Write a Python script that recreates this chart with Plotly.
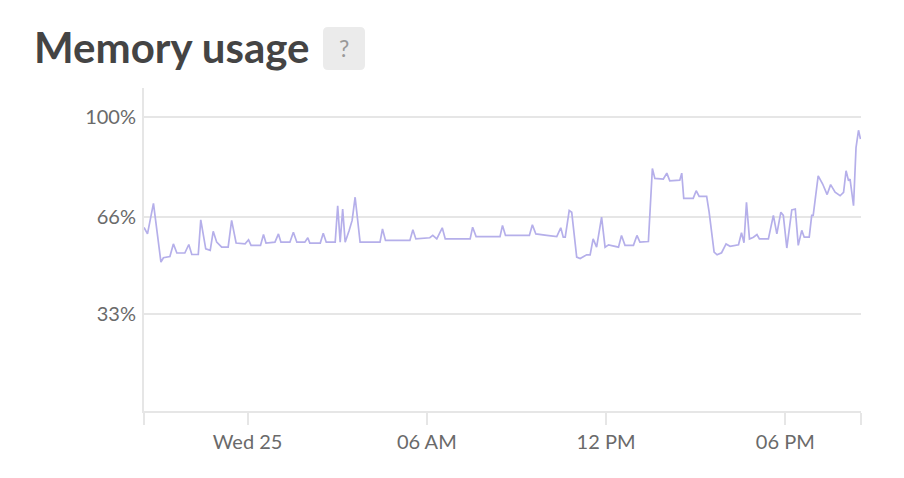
import plotly.graph_objects as go

# ---- data ----
times = [
    "2019-09-24 20:32", "2019-09-24 20:39", "2019-09-24 20:51", "2019-09-24 21:06", "2019-09-24 21:11",
    "2019-09-24 21:24", "2019-09-24 21:31", "2019-09-24 21:38", "2019-09-24 21:54", "2019-09-24 22:02",
    "2019-09-24 22:08", "2019-09-24 22:21", "2019-09-24 22:26", "2019-09-24 22:36", "2019-09-24 22:45",
    "2019-09-24 22:51", "2019-09-24 22:58", "2019-09-24 23:08", "2019-09-24 23:21", "2019-09-24 23:28",
    "2019-09-24 23:37", "2019-09-24 23:55", "2019-09-25 00:02", "2019-09-25 00:07", "2019-09-25 00:26",
    "2019-09-25 00:32", "2019-09-25 00:37", "2019-09-25 00:55", "2019-09-25 01:02", "2019-09-25 01:07",
    "2019-09-25 01:25", "2019-09-25 01:32", "2019-09-25 01:39", "2019-09-25 01:55", "2019-09-25 02:01",
    "2019-09-25 02:05", "2019-09-25 02:26", "2019-09-25 02:32", "2019-09-25 02:38", "2019-09-25 02:56",
    "2019-09-25 03:01", "2019-09-25 03:06", "2019-09-25 03:11", "2019-09-25 03:16", "2019-09-25 03:24",
    "2019-09-25 03:30", "2019-09-25 03:36", "2019-09-25 03:46", "2019-09-25 04:26", "2019-09-25 04:31",
    "2019-09-25 04:37", "2019-09-25 05:26", "2019-09-25 05:32", "2019-09-25 05:38", "2019-09-25 06:06",
    "2019-09-25 06:12", "2019-09-25 06:20", "2019-09-25 06:31", "2019-09-25 06:37", "2019-09-25 07:27",
    "2019-09-25 07:32", "2019-09-25 07:39", "2019-09-25 08:27", "2019-09-25 08:32", "2019-09-25 08:38",
    "2019-09-25 09:26", "2019-09-25 09:32", "2019-09-25 09:39", "2019-09-25 10:01", "2019-09-25 10:21",
    "2019-09-25 10:29", "2019-09-25 10:34", "2019-09-25 10:38", "2019-09-25 10:46", "2019-09-25 10:51",
    "2019-09-25 11:01", "2019-09-25 11:08", "2019-09-25 11:21", "2019-09-25 11:28", "2019-09-25 11:34",
    "2019-09-25 11:41", "2019-09-25 11:51", "2019-09-25 11:58", "2019-09-25 12:05", "2019-09-25 12:25",
    "2019-09-25 12:31", "2019-09-25 12:38", "2019-09-25 12:55", "2019-09-25 13:02", "2019-09-25 13:08",
    "2019-09-25 13:25", "2019-09-25 13:33", "2019-09-25 13:38", "2019-09-25 13:55", "2019-09-25 14:02",
    "2019-09-25 14:08", "2019-09-25 14:28", "2019-09-25 14:32", "2019-09-25 14:36", "2019-09-25 14:55",
    "2019-09-25 15:01", "2019-09-25 15:07", "2019-09-25 15:22", "2019-09-25 15:27", "2019-09-25 15:37",
    "2019-09-25 15:43", "2019-09-25 15:52", "2019-09-25 16:01", "2019-09-25 16:09", "2019-09-25 16:26",
    "2019-09-25 16:32", "2019-09-25 16:37", "2019-09-25 16:42", "2019-09-25 16:48", "2019-09-25 16:56",
    "2019-09-25 17:03", "2019-09-25 17:08", "2019-09-25 17:26", "2019-09-25 17:36", "2019-09-25 17:43",
    "2019-09-25 17:51", "2019-09-25 17:56", "2019-09-25 18:03", "2019-09-25 18:13", "2019-09-25 18:20",
    "2019-09-25 18:26", "2019-09-25 18:33", "2019-09-25 18:38", "2019-09-25 18:48", "2019-09-25 18:53",
    "2019-09-25 18:56", "2019-09-25 19:06", "2019-09-25 19:15", "2019-09-25 19:24", "2019-09-25 19:31",
    "2019-09-25 19:40", "2019-09-25 19:50", "2019-09-25 19:57", "2019-09-25 20:02", "2019-09-25 20:07",
    "2019-09-25 20:10", "2019-09-25 20:17", "2019-09-25 20:22", "2019-09-25 20:27", "2019-09-25 20:31",
]
memory_pct = [
    62.5, 60.3, 70.7, 50.7, 52.2,
    52.6, 56.9, 53.8, 53.8, 56.7,
    53.3, 53.3, 65.1, 55.2, 54.7,
    61.2, 57.5, 55.8, 55.8, 64.9,
    57.2, 56.9, 58.3, 56.4, 56.4,
    60.1, 57.2, 57.5, 60.3, 57.5,
    57.5, 60.9, 57.5, 57.5, 59.0,
    57.2, 57.2, 60.5, 57.5, 57.5,
    69.9, 57.5, 68.8, 57.5, 61.5,
    64.9, 72.8, 57.5, 57.5, 62.0,
    58.1, 58.1, 61.7, 58.6, 59.0,
    59.8, 58.6, 62.4, 58.6, 58.6,
    62.6, 59.4, 59.4, 63.2, 59.8,
    59.8, 63.4, 60.3, 59.8, 59.4,
    62.4, 59.2, 59.2, 68.3, 67.7,
    52.4, 51.9, 53.2, 53.2, 58.6,
    55.8, 66.0, 55.8, 56.6, 55.8,
    59.8, 56.4, 56.4, 59.8, 57.5,
    57.7, 82.6, 79.2, 79.0, 81.0,
    78.4, 78.6, 81.0, 72.4, 72.4,
    75.0, 73.1, 73.1, 67.7, 54.1,
    53.2, 53.9, 56.9, 56.1, 56.6,
    60.7, 57.3, 71.1, 58.6, 59.2,
    60.1, 58.6, 58.6, 66.6, 60.3,
    67.7, 66.6, 55.5, 68.5, 68.8,
    56.4, 61.5, 59.2, 59.2, 66.6,
    66.6, 80.1, 77.3, 73.7, 77.1,
    74.5, 73.3, 74.5, 81.8, 78.4,
    79.0, 69.9, 89.7, 95.6, 92.6,
]
x_range = ["2019-09-24 20:32", "2019-09-25 20:32"]
x_tickvals = ["2019-09-24 20:32", "2019-09-25 00:00", "2019-09-25 06:00",
              "2019-09-25 12:00", "2019-09-25 18:00", "2019-09-25 20:32"]
x_ticktext = ["", "Wed 25", "06 AM", "12 PM", "06 PM", ""]
y_tickvals = [33, 66, 100]
y_ticktext = ["33%", "66%", "100%"]

# ---- layout geometry (pixels); page body has an 8px margin ----
OFF = 8
W, H = 888, 462
L, R, T, B = 136, 35, 80, 59
PW, PH = W - L - R, H - T - B

def px(x):  # page pixel -> paper x
    return (x - OFF - L) / PW

def py(y):  # page pixel -> paper y
    return (OFF + H - B - y) / PH

FONT = "Lato"
TXT = "#6a6a6a"
GRID = "#e6e6e6"

fig = go.Figure()
fig.add_trace(go.Scatter(
    x=times, y=memory_pct, mode="lines",
    line=dict(color="#b5afea", width=1.7),
    hoverinfo="skip", showlegend=False,
))

fig.update_layout(
    width=W, height=H,
    margin=dict(l=L, r=R, t=T, b=B, pad=0),
    paper_bgcolor="white", plot_bgcolor="white",
    font=dict(family=FONT, color=TXT, size=20),
    xaxis=dict(
        type="date", range=x_range, tickvals=x_tickvals, ticktext=x_ticktext,
        showgrid=False, zeroline=False, showline=True, linecolor=GRID, linewidth=2,
        ticks="outside", ticklen=12, tickwidth=2, tickcolor=GRID,
        tickfont=dict(family=FONT, color=TXT, size=20),
    ),
    yaxis=dict(
        range=[0, 110], tickvals=y_tickvals, ticktext=y_ticktext,
        showgrid=True, gridcolor=GRID, gridwidth=2, zeroline=False,
        showline=True, linecolor=GRID, linewidth=2, ticks="",
        ticklabelstandoff=2,
        tickfont=dict(family=FONT, color=TXT, size=20),
    ),
)

# title
fig.add_annotation(
    text="<b>Memory usage</b>", xref="paper", yref="paper",
    x=px(32), y=py(47), xanchor="left", yanchor="middle", showarrow=False,
    font=dict(family=FONT, size=42, color="#444444"),
)
# help box
x0, x1, y0, y1, r = 323, 365, 27, 70, 5
path = (f"M {px(x0+r)},{py(y0)} L {px(x1-r)},{py(y0)} Q {px(x1)},{py(y0)} {px(x1)},{py(y0+r)} "
        f"L {px(x1)},{py(y1-r)} Q {px(x1)},{py(y1)} {px(x1-r)},{py(y1)} "
        f"L {px(x0+r)},{py(y1)} Q {px(x0)},{py(y1)} {px(x0)},{py(y1-r)} "
        f"L {px(x0)},{py(y0+r)} Q {px(x0)},{py(y0)} {px(x0+r)},{py(y0)} Z")
fig.add_shape(type="path", path=path, xref="paper", yref="paper",
              fillcolor="#ebebeb", line=dict(width=0), layer="above")
fig.add_annotation(
    text="?", xref="paper", yref="paper", x=px(344), y=py(48),
    xanchor="center", yanchor="middle", showarrow=False,
    font=dict(family=FONT, size=23, color="#999999"),
)

fig.write_html("out.html")
